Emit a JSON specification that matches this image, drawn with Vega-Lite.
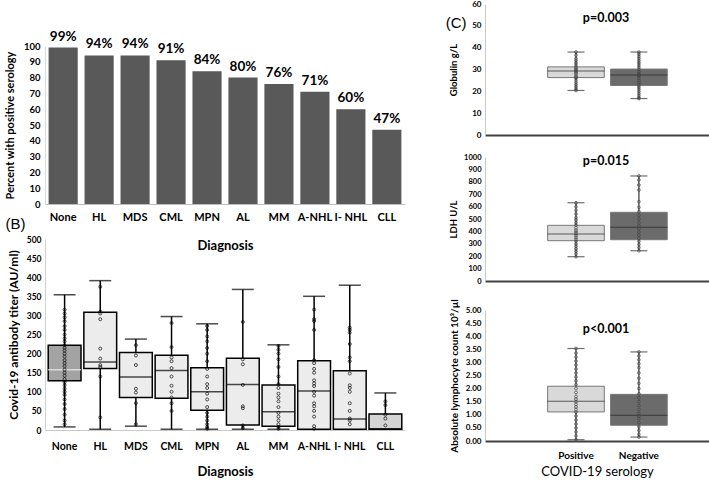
{
  "$schema": "https://vega.github.io/schema/vega-lite/v6.json",
  "padding": {"left": 4, "top": 0, "right": 2, "bottom": 1},
  "spacing": 40,
  "config": {
    "view": {"stroke": null},
    "font": "Lato",
    "axis": {"grid": false, "ticks": false, "labelOverlap": false, "labelColor": "#000", "titleColor": "#000", "labelFont": "Lato", "labelFontWeight": "bold", "titleFont": "Lato", "titleFontWeight": "bold", "domainColor": "#c8c8c8", "labelPadding": 4},
    "title": {"color": "#000"}
  },
  "datasets": {
    "aData": [
      {"dx": "None", "pct": 99, "label": "99%"},
      {"dx": "HL", "pct": 94, "label": "94%"},
      {"dx": "MDS", "pct": 94, "label": "94%"},
      {"dx": "CML", "pct": 91, "label": "91%"},
      {"dx": "MPN", "pct": 84, "label": "84%"},
      {"dx": "AL", "pct": 80, "label": "80%"},
      {"dx": "MM", "pct": 76, "label": "76%"},
      {"dx": "A-NHL", "pct": 71, "label": "71%"},
      {"dx": "I- NHL", "pct": 60, "label": "60%"},
      {"dx": "CLL", "pct": 47, "label": "47%"}
    ],
    "boxB": [
      {"dx": "None", "min": 8, "q1": 129, "median": 158, "q3": 222, "max": 354},
      {"dx": "HL", "min": 2, "q1": 161, "median": 178, "q3": 308, "max": 391},
      {"dx": "MDS", "min": 10, "q1": 85, "median": 139, "q3": 203, "max": 238},
      {"dx": "CML", "min": 2, "q1": 83, "median": 156, "q3": 196, "max": 297},
      {"dx": "MPN", "min": 2, "q1": 52, "median": 100, "q3": 163, "max": 278},
      {"dx": "AL", "min": 2, "q1": 13, "median": 119, "q3": 188, "max": 368},
      {"dx": "MM", "min": 2, "q1": 10, "median": 48, "q3": 118, "max": 223},
      {"dx": "A-NHL", "min": 2, "q1": 2, "median": 102, "q3": 181, "max": 350},
      {"dx": "I- NHL", "min": 2, "q1": 2, "median": 29, "q3": 155, "max": 379},
      {"dx": "CLL", "min": 2, "q1": 2, "median": 3, "q3": 42, "max": 97}
    ],
    "ptsB": [
      {"dx": "None", "titer": 315}, {"dx": "None", "titer": 305}, {"dx": "None", "titer": 295}, {"dx": "None", "titer": 285}, {"dx": "None", "titer": 272}, {"dx": "None", "titer": 262}, {"dx": "None", "titer": 250}, {"dx": "None", "titer": 240}, {"dx": "None", "titer": 232}, {"dx": "None", "titer": 222}, {"dx": "None", "titer": 215}, {"dx": "None", "titer": 208}, {"dx": "None", "titer": 200}, {"dx": "None", "titer": 192}, {"dx": "None", "titer": 183}, {"dx": "None", "titer": 175}, {"dx": "None", "titer": 167}, {"dx": "None", "titer": 158}, {"dx": "None", "titer": 150}, {"dx": "None", "titer": 142}, {"dx": "None", "titer": 133}, {"dx": "None", "titer": 125}, {"dx": "None", "titer": 117}, {"dx": "None", "titer": 108}, {"dx": "None", "titer": 100}, {"dx": "None", "titer": 92}, {"dx": "None", "titer": 80}, {"dx": "None", "titer": 68}, {"dx": "None", "titer": 55}, {"dx": "None", "titer": 40}, {"dx": "None", "titer": 25}, {"dx": "None", "titer": 15},
      {"dx": "HL", "titer": 375}, {"dx": "HL", "titer": 310}, {"dx": "HL", "titer": 305}, {"dx": "HL", "titer": 290}, {"dx": "HL", "titer": 213}, {"dx": "HL", "titer": 187}, {"dx": "HL", "titer": 170}, {"dx": "HL", "titer": 165}, {"dx": "HL", "titer": 140}, {"dx": "HL", "titer": 33},
      {"dx": "MDS", "titer": 222}, {"dx": "MDS", "titer": 195}, {"dx": "MDS", "titer": 170}, {"dx": "MDS", "titer": 108}, {"dx": "MDS", "titer": 98}, {"dx": "MDS", "titer": 70}, {"dx": "MDS", "titer": 15},
      {"dx": "CML", "titer": 280}, {"dx": "CML", "titer": 217}, {"dx": "CML", "titer": 190}, {"dx": "CML", "titer": 180}, {"dx": "CML", "titer": 162}, {"dx": "CML", "titer": 140}, {"dx": "CML", "titer": 116}, {"dx": "CML", "titer": 100}, {"dx": "CML", "titer": 85}, {"dx": "CML", "titer": 70}, {"dx": "CML", "titer": 50},
      {"dx": "MPN", "titer": 272}, {"dx": "MPN", "titer": 262}, {"dx": "MPN", "titer": 245}, {"dx": "MPN", "titer": 232}, {"dx": "MPN", "titer": 215}, {"dx": "MPN", "titer": 200}, {"dx": "MPN", "titer": 180}, {"dx": "MPN", "titer": 160}, {"dx": "MPN", "titer": 140}, {"dx": "MPN", "titer": 120}, {"dx": "MPN", "titer": 110}, {"dx": "MPN", "titer": 95}, {"dx": "MPN", "titer": 80}, {"dx": "MPN", "titer": 60}, {"dx": "MPN", "titer": 45}, {"dx": "MPN", "titer": 35}, {"dx": "MPN", "titer": 25}, {"dx": "MPN", "titer": 15}, {"dx": "MPN", "titer": 8}, {"dx": "MPN", "titer": 3},
      {"dx": "AL", "titer": 283}, {"dx": "AL", "titer": 185}, {"dx": "AL", "titer": 172}, {"dx": "AL", "titer": 118}, {"dx": "AL", "titer": 62}, {"dx": "AL", "titer": 57}, {"dx": "AL", "titer": 12}, {"dx": "AL", "titer": 5},
      {"dx": "MM", "titer": 220}, {"dx": "MM", "titer": 210}, {"dx": "MM", "titer": 200}, {"dx": "MM", "titer": 185}, {"dx": "MM", "titer": 165}, {"dx": "MM", "titer": 140}, {"dx": "MM", "titer": 120}, {"dx": "MM", "titer": 110}, {"dx": "MM", "titer": 95}, {"dx": "MM", "titer": 85}, {"dx": "MM", "titer": 75}, {"dx": "MM", "titer": 60}, {"dx": "MM", "titer": 45}, {"dx": "MM", "titer": 35}, {"dx": "MM", "titer": 25}, {"dx": "MM", "titer": 15}, {"dx": "MM", "titer": 8}, {"dx": "MM", "titer": 3},
      {"dx": "A-NHL", "titer": 315}, {"dx": "A-NHL", "titer": 290}, {"dx": "A-NHL", "titer": 285}, {"dx": "A-NHL", "titer": 262}, {"dx": "A-NHL", "titer": 183}, {"dx": "A-NHL", "titer": 175}, {"dx": "A-NHL", "titer": 160}, {"dx": "A-NHL", "titer": 150}, {"dx": "A-NHL", "titer": 130}, {"dx": "A-NHL", "titer": 122}, {"dx": "A-NHL", "titer": 115}, {"dx": "A-NHL", "titer": 100}, {"dx": "A-NHL", "titer": 90}, {"dx": "A-NHL", "titer": 70}, {"dx": "A-NHL", "titer": 62}, {"dx": "A-NHL", "titer": 50}, {"dx": "A-NHL", "titer": 35}, {"dx": "A-NHL", "titer": 10}, {"dx": "A-NHL", "titer": 3},
      {"dx": "I- NHL", "titer": 268}, {"dx": "I- NHL", "titer": 262}, {"dx": "I- NHL", "titer": 255}, {"dx": "I- NHL", "titer": 225}, {"dx": "I- NHL", "titer": 190}, {"dx": "I- NHL", "titer": 180}, {"dx": "I- NHL", "titer": 148}, {"dx": "I- NHL", "titer": 117}, {"dx": "I- NHL", "titer": 110}, {"dx": "I- NHL", "titer": 100}, {"dx": "I- NHL", "titer": 70}, {"dx": "I- NHL", "titer": 50}, {"dx": "I- NHL", "titer": 30}, {"dx": "I- NHL", "titer": 25}, {"dx": "I- NHL", "titer": 15},
      {"dx": "CLL", "titer": 75}, {"dx": "CLL", "titer": 65}, {"dx": "CLL", "titer": 40}, {"dx": "CLL", "titer": 30}, {"dx": "CLL", "titer": 12}
    ],
    "globBox": [
      {"serology": "Positive", "min": 20.4, "q1": 26.3, "median": 29.3, "q3": 31.2, "max": 38},
      {"serology": "Negative", "min": 16.7, "q1": 22.7, "median": 27.5, "q3": 30.2, "max": 38}
    ],
    "globPts": [
      {"serology": "Positive", "v": 38}, {"serology": "Positive", "v": 36.5}, {"serology": "Positive", "v": 35}, {"serology": "Positive", "v": 34}, {"serology": "Positive", "v": 33}, {"serology": "Positive", "v": 32}, {"serology": "Positive", "v": 31}, {"serology": "Positive", "v": 30.5}, {"serology": "Positive", "v": 30}, {"serology": "Positive", "v": 29.5}, {"serology": "Positive", "v": 29}, {"serology": "Positive", "v": 28.5}, {"serology": "Positive", "v": 28}, {"serology": "Positive", "v": 27}, {"serology": "Positive", "v": 26.5}, {"serology": "Positive", "v": 26}, {"serology": "Positive", "v": 25}, {"serology": "Positive", "v": 24}, {"serology": "Positive", "v": 23}, {"serology": "Positive", "v": 22}, {"serology": "Positive", "v": 21}, {"serology": "Positive", "v": 20.4},
      {"serology": "Negative", "v": 38}, {"serology": "Negative", "v": 37}, {"serology": "Negative", "v": 36}, {"serology": "Negative", "v": 35}, {"serology": "Negative", "v": 34}, {"serology": "Negative", "v": 33}, {"serology": "Negative", "v": 32}, {"serology": "Negative", "v": 31}, {"serology": "Negative", "v": 30}, {"serology": "Negative", "v": 29}, {"serology": "Negative", "v": 28}, {"serology": "Negative", "v": 27.5}, {"serology": "Negative", "v": 27}, {"serology": "Negative", "v": 26}, {"serology": "Negative", "v": 25}, {"serology": "Negative", "v": 24}, {"serology": "Negative", "v": 23}, {"serology": "Negative", "v": 22}, {"serology": "Negative", "v": 21}, {"serology": "Negative", "v": 20}, {"serology": "Negative", "v": 19}, {"serology": "Negative", "v": 18}, {"serology": "Negative", "v": 17}, {"serology": "Negative", "v": 16.7}
    ],
    "ldhBox": [
      {"serology": "Positive", "min": 196, "q1": 325, "median": 379, "q3": 449, "max": 631},
      {"serology": "Negative", "min": 244, "q1": 333, "median": 433, "q3": 554, "max": 847}
    ],
    "ldhPts": [
      {"serology": "Positive", "v": 631}, {"serology": "Positive", "v": 600}, {"serology": "Positive", "v": 570}, {"serology": "Positive", "v": 540}, {"serology": "Positive", "v": 510}, {"serology": "Positive", "v": 490}, {"serology": "Positive", "v": 470}, {"serology": "Positive", "v": 450}, {"serology": "Positive", "v": 430}, {"serology": "Positive", "v": 410}, {"serology": "Positive", "v": 395}, {"serology": "Positive", "v": 380}, {"serology": "Positive", "v": 365}, {"serology": "Positive", "v": 350}, {"serology": "Positive", "v": 335}, {"serology": "Positive", "v": 320}, {"serology": "Positive", "v": 300}, {"serology": "Positive", "v": 280}, {"serology": "Positive", "v": 260}, {"serology": "Positive", "v": 240}, {"serology": "Positive", "v": 220}, {"serology": "Positive", "v": 196},
      {"serology": "Negative", "v": 847}, {"serology": "Negative", "v": 815}, {"serology": "Negative", "v": 774}, {"serology": "Negative", "v": 734}, {"serology": "Negative", "v": 640}, {"serology": "Negative", "v": 594}, {"serology": "Negative", "v": 559}, {"serology": "Negative", "v": 530}, {"serology": "Negative", "v": 500}, {"serology": "Negative", "v": 470}, {"serology": "Negative", "v": 445}, {"serology": "Negative", "v": 420}, {"serology": "Negative", "v": 395}, {"serology": "Negative", "v": 370}, {"serology": "Negative", "v": 345}, {"serology": "Negative", "v": 320}, {"serology": "Negative", "v": 295}, {"serology": "Negative", "v": 270}, {"serology": "Negative", "v": 244}
    ],
    "lymBox": [
      {"serology": "Positive", "min": 0.05, "q1": 1.11, "median": 1.52, "q3": 2.09, "max": 3.53},
      {"serology": "Negative", "min": 0.15, "q1": 0.6, "median": 0.98, "q3": 1.78, "max": 3.4}
    ],
    "lymPts": [
      {"serology": "Positive", "v": 3.53}, {"serology": "Positive", "v": 3.35}, {"serology": "Positive", "v": 3.2}, {"serology": "Positive", "v": 3.05}, {"serology": "Positive", "v": 2.9}, {"serology": "Positive", "v": 2.75}, {"serology": "Positive", "v": 2.6}, {"serology": "Positive", "v": 2.45}, {"serology": "Positive", "v": 2.3}, {"serology": "Positive", "v": 2.15}, {"serology": "Positive", "v": 2.0}, {"serology": "Positive", "v": 1.85}, {"serology": "Positive", "v": 1.7}, {"serology": "Positive", "v": 1.6}, {"serology": "Positive", "v": 1.5}, {"serology": "Positive", "v": 1.4}, {"serology": "Positive", "v": 1.3}, {"serology": "Positive", "v": 1.2}, {"serology": "Positive", "v": 1.1}, {"serology": "Positive", "v": 0.95}, {"serology": "Positive", "v": 0.8}, {"serology": "Positive", "v": 0.65}, {"serology": "Positive", "v": 0.5}, {"serology": "Positive", "v": 0.35}, {"serology": "Positive", "v": 0.2}, {"serology": "Positive", "v": 0.05},
      {"serology": "Negative", "v": 3.4}, {"serology": "Negative", "v": 3.25}, {"serology": "Negative", "v": 3.1}, {"serology": "Negative", "v": 2.95}, {"serology": "Negative", "v": 2.8}, {"serology": "Negative", "v": 2.6}, {"serology": "Negative", "v": 2.4}, {"serology": "Negative", "v": 2.2}, {"serology": "Negative", "v": 2.0}, {"serology": "Negative", "v": 1.8}, {"serology": "Negative", "v": 1.65}, {"serology": "Negative", "v": 1.5}, {"serology": "Negative", "v": 1.35}, {"serology": "Negative", "v": 1.2}, {"serology": "Negative", "v": 1.05}, {"serology": "Negative", "v": 0.95}, {"serology": "Negative", "v": 0.85}, {"serology": "Negative", "v": 0.7}, {"serology": "Negative", "v": 0.55}, {"serology": "Negative", "v": 0.4}, {"serology": "Negative", "v": 0.25}, {"serology": "Negative", "v": 0.15}
    ]
  },
  "hconcat": [
    {
      "bounds": "flush",
      "spacing": 35,
      "vconcat": [
        {"width": 360, "height": 7, "data": {"values": []}, "mark": "point"},
        {
          "width": 360, "height": 158,
          "data": {"name": "aData"},
          "encoding": {
            "x": {"field": "dx", "type": "nominal", "scale": {"domain": ["None", "HL", "MDS", "CML", "MPN", "AL", "MM", "A-NHL", "I- NHL", "CLL"], "paddingInner": 0.19, "paddingOuter": 0.1}, "axis": {"title": "Diagnosis", "labelAngle": 0, "labelFontSize": 11, "labelPadding": 7, "titleFontSize": 13, "titlePadding": 17, "domainColor": "#bfbfbf"}},
            "y": {"field": "pct", "type": "quantitative", "scale": {"domain": [0, 100], "nice": false}, "axis": {"values": [0, 10, 20, 30, 40, 50, 60, 70, 80, 90, 100], "title": "Percent with positive serology", "labelFontSize": 9.5, "titleFontSize": 11, "labelPadding": 5, "titlePadding": 8, "domainColor": "#d9d9d9"}}
          },
          "layer": [
            {"mark": {"type": "bar", "color": "#595959"}},
            {"mark": {"type": "text", "baseline": "bottom", "dy": -4, "fontSize": 13.5, "fontWeight": "bold", "color": "#000"}, "encoding": {"text": {"field": "label"}}},
            {"data": {"values": [{"t": "(A)"}]}, "mark": {"type": "text", "font": "Liberation Sans", "fontSize": 15, "color": "#000", "align": "left", "baseline": "middle"}, "encoding": {"x": {"datum": "None", "bandPosition": -1.48, "scale": {"domain": ["None", "HL", "MDS", "CML", "MPN", "AL", "MM", "A-NHL", "I- NHL", "CLL"], "paddingInner": 0.19, "paddingOuter": 0.1}, "axis": {"title": "Diagnosis", "labelAngle": 0, "labelFontSize": 11, "labelPadding": 7, "titleFontSize": 13, "titlePadding": 17, "domainColor": "#bfbfbf"}}, "y": {"datum": 115.5, "type": "quantitative", "scale": {"domain": [0, 100], "nice": false}, "axis": {"values": [0, 10, 20, 30, 40, 50, 60, 70, 80, 90, 100], "title": "Percent with positive serology", "labelFontSize": 9.5, "titleFontSize": 11, "labelPadding": 5, "titlePadding": 8, "domainColor": "#d9d9d9"}}, "text": {"field": "t"}}}
          ]
        },
        {
          "width": 360, "height": 191,
          "encoding": {
            "x": {"field": "dx", "type": "nominal", "scale": {"domain": ["None", "HL", "MDS", "CML", "MPN", "AL", "MM", "A-NHL", "I- NHL", "CLL"], "paddingInner": 0.08, "paddingOuter": 0.09}, "axis": {"title": "Diagnosis", "labelAngle": 0, "labelFontSize": 10.5, "labelPadding": 11, "titleFontSize": 13, "titlePadding": 14, "domainColor": "#c8c8c8"}}
          },
          "layer": [
            {"data": {"name": "boxB"}, "mark": {"type": "rule", "color": "#000", "strokeWidth": 1.5}, "encoding": {"y": {"field": "min", "type": "quantitative", "scale": {"domain": [0, 500], "nice": false}, "axis": {"values": [0, 50, 100, 150, 200, 250, 300, 350, 400, 450, 500], "title": "Covid-19 antibody titer (AU/ml)", "labelFontSize": 8.5, "titleFontSize": 12, "labelPadding": 4, "titlePadding": 6, "domainColor": "#d0d0d0", "labelOverlap": false}}, "y2": {"field": "max"}}},
            {"data": {"name": "boxB"}, "mark": {"type": "tick", "color": "#000", "size": 22, "thickness": 1.5}, "encoding": {"y": {"field": "max", "type": "quantitative", "scale": {"domain": [0, 500], "nice": false}, "axis": {"values": [0, 50, 100, 150, 200, 250, 300, 350, 400, 450, 500], "title": "Covid-19 antibody titer (AU/ml)", "labelFontSize": 8.5, "titleFontSize": 12, "labelPadding": 4, "titlePadding": 6, "domainColor": "#d0d0d0", "labelOverlap": false}}}},
            {"data": {"name": "boxB"}, "mark": {"type": "tick", "color": "#000", "size": 22, "thickness": 1.5}, "encoding": {"y": {"field": "min", "type": "quantitative", "scale": {"domain": [0, 500], "nice": false}, "axis": {"values": [0, 50, 100, 150, 200, 250, 300, 350, 400, 450, 500], "title": "Covid-19 antibody titer (AU/ml)", "labelFontSize": 8.5, "titleFontSize": 12, "labelPadding": 4, "titlePadding": 6, "domainColor": "#d0d0d0", "labelOverlap": false}}}},
            {"data": {"name": "boxB"}, "mark": {"type": "bar", "stroke": "#000", "strokeWidth": 1.5}, "encoding": {"y": {"field": "q1", "type": "quantitative", "scale": {"domain": [0, 500], "nice": false}, "axis": {"values": [0, 50, 100, 150, 200, 250, 300, 350, 400, 450, 500], "title": "Covid-19 antibody titer (AU/ml)", "labelFontSize": 8.5, "titleFontSize": 12, "labelPadding": 4, "titlePadding": 6, "domainColor": "#d0d0d0", "labelOverlap": false}}, "y2": {"field": "q3"}, "color": {"condition": [{"test": "datum.dx === 'None'", "value": "#a3a3a3"}, {"test": "datum.dx === 'CLL'", "value": "#d4d4d4"}], "value": "#ececec"}}},
            {"data": {"name": "boxB"}, "mark": {"type": "tick", "size": 33, "thickness": 1.5}, "encoding": {"y": {"field": "median", "type": "quantitative", "scale": {"domain": [0, 500], "nice": false}, "axis": {"values": [0, 50, 100, 150, 200, 250, 300, 350, 400, 450, 500], "title": "Covid-19 antibody titer (AU/ml)", "labelFontSize": 8.5, "titleFontSize": 12, "labelPadding": 4, "titlePadding": 6, "domainColor": "#d0d0d0", "labelOverlap": false}}, "color": {"condition": {"test": "datum.dx === 'None'", "value": "#f2f2f2"}, "value": "#000"}}},
            {"data": {"name": "ptsB"}, "mark": {"type": "point", "shape": "circle", "size": 9, "filled": false, "stroke": "#000", "strokeWidth": 1}, "encoding": {"y": {"field": "titer", "type": "quantitative", "scale": {"domain": [0, 500], "nice": false}, "axis": {"values": [0, 50, 100, 150, 200, 250, 300, 350, 400, 450, 500], "title": "Covid-19 antibody titer (AU/ml)", "labelFontSize": 8.5, "titleFontSize": 12, "labelPadding": 4, "titlePadding": 6, "domainColor": "#d0d0d0", "labelOverlap": false}}}},
            {"data": {"values": [{"t": "(B)"}]}, "mark": {"type": "text", "font": "Liberation Sans", "fontSize": 15, "color": "#000", "align": "left", "baseline": "middle"}, "encoding": {"x": {"datum": "None", "bandPosition": -1.3, "axis": {"title": "Diagnosis", "labelAngle": 0, "labelFontSize": 10.5, "labelPadding": 11, "titleFontSize": 13, "titlePadding": 14, "domainColor": "#c8c8c8"}}, "y": {"datum": 539, "type": "quantitative", "scale": {"domain": [0, 500], "nice": false}, "axis": {"values": [0, 50, 100, 150, 200, 250, 300, 350, 400, 450, 500], "title": "Covid-19 antibody titer (AU/ml)", "labelFontSize": 8.5, "titleFontSize": 12, "labelPadding": 4, "titlePadding": 6, "domainColor": "#d0d0d0", "labelOverlap": false}}, "text": {"field": "t"}}}
          ]
        }
      ]
    },
    {
      "bounds": "flush",
      "spacing": 10,
      "vconcat": [
        {
          "width": 224, "height": 131,
          "encoding": {
            "x": {"field": "serology", "type": "nominal", "scale": {"domain": ["Positive", "Negative"], "paddingInner": 0.1, "paddingOuter": 0.83, "align": 0.6}, "axis": {"labels": false, "title": null, "domainColor": "#404040", "domainWidth": 2}}
          },
          "layer": [
            {"data": {"name": "globBox"}, "mark": {"type": "rule", "color": "#333", "strokeWidth": 1.2}, "encoding": {"y": {"field": "min", "type": "quantitative", "scale": {"domain": [0, 60], "nice": false}, "axis": {"values": [0, 10, 20, 30, 40, 50, 60], "title": "Globulin g/L", "labelFontSize": 8, "titleFontSize": 9.5, "labelPadding": 4, "titlePadding": 13, "labelOverlap": false}}, "y2": {"field": "max"}}},
            {"data": {"name": "globBox"}, "mark": {"type": "tick", "color": "#333", "size": 17, "thickness": 1.2}, "encoding": {"y": {"field": "min", "type": "quantitative", "scale": {"domain": [0, 60], "nice": false}, "axis": {"values": [0, 10, 20, 30, 40, 50, 60], "title": "Globulin g/L", "labelFontSize": 8, "titleFontSize": 9.5, "labelPadding": 4, "titlePadding": 13, "labelOverlap": false}}}},
            {"data": {"name": "globBox"}, "mark": {"type": "tick", "color": "#333", "size": 17, "thickness": 1.2}, "encoding": {"y": {"field": "max", "type": "quantitative", "scale": {"domain": [0, 60], "nice": false}, "axis": {"values": [0, 10, 20, 30, 40, 50, 60], "title": "Globulin g/L", "labelFontSize": 8, "titleFontSize": 9.5, "labelPadding": 4, "titlePadding": 13, "labelOverlap": false}}}},
            {"data": {"name": "globBox"}, "mark": {"type": "bar", "stroke": "#777", "strokeWidth": 1}, "encoding": {"y": {"field": "q1", "type": "quantitative", "scale": {"domain": [0, 60], "nice": false}, "axis": {"values": [0, 10, 20, 30, 40, 50, 60], "title": "Globulin g/L", "labelFontSize": 8, "titleFontSize": 9.5, "labelPadding": 4, "titlePadding": 13, "labelOverlap": false}}, "y2": {"field": "q3"}, "color": {"condition": {"test": "datum.serology === 'Positive'", "value": "#d9d9d9"}, "value": "#6b6b6b"}}},
            {"data": {"name": "globBox"}, "mark": {"type": "tick", "color": "#222", "size": 57, "thickness": 1}, "encoding": {"y": {"field": "median", "type": "quantitative", "scale": {"domain": [0, 60], "nice": false}, "axis": {"values": [0, 10, 20, 30, 40, 50, 60], "title": "Globulin g/L", "labelFontSize": 8, "titleFontSize": 9.5, "labelPadding": 4, "titlePadding": 13, "labelOverlap": false}}}},
            {"data": {"name": "globPts"}, "mark": {"type": "point", "shape": "circle", "size": 8, "filled": false, "stroke": "#444", "strokeWidth": 1}, "encoding": {"y": {"field": "v", "type": "quantitative", "scale": {"domain": [0, 60], "nice": false}, "axis": {"values": [0, 10, 20, 30, 40, 50, 60], "title": "Globulin g/L", "labelFontSize": 8, "titleFontSize": 9.5, "labelPadding": 4, "titlePadding": 13, "labelOverlap": false}}}},
            {"data": {"values": [{"t": "p=0.003"}]}, "mark": {"type": "text", "fontSize": 12.5, "fontWeight": "bold", "color": "#000", "baseline": "middle"}, "encoding": {"x": {"datum": "Positive", "bandPosition": 1.03, "axis": {"labels": false, "title": null, "domainColor": "#404040", "domainWidth": 2}}, "y": {"datum": 53.4, "type": "quantitative", "scale": {"domain": [0, 60], "nice": false}, "axis": {"values": [0, 10, 20, 30, 40, 50, 60], "title": "Globulin g/L", "labelFontSize": 8, "titleFontSize": 9.5, "labelPadding": 4, "titlePadding": 13, "labelOverlap": false}}, "text": {"field": "t"}}},
            {"data": {"values": [{"t": "(C)"}]}, "mark": {"type": "text", "font": "Liberation Sans", "fontSize": 15, "color": "#000", "align": "left", "baseline": "middle"}, "encoding": {"x": {"datum": "Positive", "bandPosition": -1.8, "axis": {"labels": false, "title": null, "domainColor": "#404040", "domainWidth": 2}}, "y": {"datum": 51.4, "type": "quantitative", "scale": {"domain": [0, 60], "nice": false}, "axis": {"values": [0, 10, 20, 30, 40, 50, 60], "title": "Globulin g/L", "labelFontSize": 8, "titleFontSize": 9.5, "labelPadding": 4, "titlePadding": 13, "labelOverlap": false}}, "text": {"field": "t"}}}
          ]
        },
        {"width": 224, "height": 2, "data": {"values": []}, "mark": "point"},
        {
          "width": 224, "height": 124,
          "encoding": {
            "x": {"field": "serology", "type": "nominal", "scale": {"domain": ["Positive", "Negative"], "paddingInner": 0.1, "paddingOuter": 0.83, "align": 0.6}, "axis": {"labels": false, "title": null, "domainColor": "#404040", "domainWidth": 2}}
          },
          "layer": [
            {"data": {"name": "ldhBox"}, "mark": {"type": "rule", "color": "#333", "strokeWidth": 1.2}, "encoding": {"y": {"field": "min", "type": "quantitative", "scale": {"domain": [0, 1000], "nice": false}, "axis": {"values": [0, 100, 200, 300, 400, 500, 600, 700, 800, 900, 1000], "format": "d", "title": "LDH U/L", "labelFontSize": 7.5, "titleFontSize": 9.5, "labelPadding": 4, "titlePadding": 5, "labelOverlap": false}}, "y2": {"field": "max"}}},
            {"data": {"name": "ldhBox"}, "mark": {"type": "tick", "color": "#333", "size": 17, "thickness": 1.2}, "encoding": {"y": {"field": "min", "type": "quantitative", "scale": {"domain": [0, 1000], "nice": false}, "axis": {"values": [0, 100, 200, 300, 400, 500, 600, 700, 800, 900, 1000], "format": "d", "title": "LDH U/L", "labelFontSize": 7.5, "titleFontSize": 9.5, "labelPadding": 4, "titlePadding": 5, "labelOverlap": false}}}},
            {"data": {"name": "ldhBox"}, "mark": {"type": "tick", "color": "#333", "size": 17, "thickness": 1.2}, "encoding": {"y": {"field": "max", "type": "quantitative", "scale": {"domain": [0, 1000], "nice": false}, "axis": {"values": [0, 100, 200, 300, 400, 500, 600, 700, 800, 900, 1000], "format": "d", "title": "LDH U/L", "labelFontSize": 7.5, "titleFontSize": 9.5, "labelPadding": 4, "titlePadding": 5, "labelOverlap": false}}}},
            {"data": {"name": "ldhBox"}, "mark": {"type": "bar", "stroke": "#777", "strokeWidth": 1}, "encoding": {"y": {"field": "q1", "type": "quantitative", "scale": {"domain": [0, 1000], "nice": false}, "axis": {"values": [0, 100, 200, 300, 400, 500, 600, 700, 800, 900, 1000], "format": "d", "title": "LDH U/L", "labelFontSize": 7.5, "titleFontSize": 9.5, "labelPadding": 4, "titlePadding": 5, "labelOverlap": false}}, "y2": {"field": "q3"}, "color": {"condition": {"test": "datum.serology === 'Positive'", "value": "#d9d9d9"}, "value": "#6b6b6b"}}},
            {"data": {"name": "ldhBox"}, "mark": {"type": "tick", "color": "#222", "size": 57, "thickness": 1}, "encoding": {"y": {"field": "median", "type": "quantitative", "scale": {"domain": [0, 1000], "nice": false}, "axis": {"values": [0, 100, 200, 300, 400, 500, 600, 700, 800, 900, 1000], "format": "d", "title": "LDH U/L", "labelFontSize": 7.5, "titleFontSize": 9.5, "labelPadding": 4, "titlePadding": 5, "labelOverlap": false}}}},
            {"data": {"name": "ldhPts"}, "mark": {"type": "point", "shape": "circle", "size": 8, "filled": false, "stroke": "#444", "strokeWidth": 1}, "encoding": {"y": {"field": "v", "type": "quantitative", "scale": {"domain": [0, 1000], "nice": false}, "axis": {"values": [0, 100, 200, 300, 400, 500, 600, 700, 800, 900, 1000], "format": "d", "title": "LDH U/L", "labelFontSize": 7.5, "titleFontSize": 9.5, "labelPadding": 4, "titlePadding": 5, "labelOverlap": false}}}},
            {"data": {"values": [{"t": "p=0.015"}]}, "mark": {"type": "text", "fontSize": 12.5, "fontWeight": "bold", "color": "#000", "baseline": "middle"}, "encoding": {"x": {"datum": "Positive", "bandPosition": 1.03, "axis": {"labels": false, "title": null, "domainColor": "#404040", "domainWidth": 2}}, "y": {"datum": 968, "type": "quantitative", "scale": {"domain": [0, 1000], "nice": false}, "axis": {"values": [0, 100, 200, 300, 400, 500, 600, 700, 800, 900, 1000], "format": "d", "title": "LDH U/L", "labelFontSize": 7.5, "titleFontSize": 9.5, "labelPadding": 4, "titlePadding": 5, "labelOverlap": false}}, "text": {"field": "t"}}}
          ]
        },
        {"width": 224, "height": 9, "data": {"values": []}, "mark": "point"},
        {
          "width": 224, "height": 131,
          "encoding": {
            "x": {"field": "serology", "type": "nominal", "scale": {"domain": ["Positive", "Negative"], "paddingInner": 0.1, "paddingOuter": 0.83, "align": 0.6}, "axis": {"title": "COVID-19 serology", "labelAngle": 0, "labelFontSize": 10, "labelPadding": 9, "titleFontSize": 13, "titleFontWeight": "normal", "titlePadding": 5, "domainColor": "#404040", "domainWidth": 2}}
          },
          "layer": [
            {"data": {"name": "lymBox"}, "mark": {"type": "rule", "color": "#333", "strokeWidth": 1.2}, "encoding": {"y": {"field": "min", "type": "quantitative", "scale": {"domain": [0, 5], "nice": false}, "axis": {"values": [0, 0.5, 1, 1.5, 2, 2.5, 3, 3.5, 4, 4.5, 5], "format": ".2f", "title": "Absolute lymphocyte count 10³/µl", "labelFontSize": 8, "titleFontSize": 10, "labelPadding": 4, "titlePadding": 6, "labelOverlap": false}}, "y2": {"field": "max"}}},
            {"data": {"name": "lymBox"}, "mark": {"type": "tick", "color": "#333", "size": 17, "thickness": 1.2}, "encoding": {"y": {"field": "min", "type": "quantitative", "scale": {"domain": [0, 5], "nice": false}, "axis": {"values": [0, 0.5, 1, 1.5, 2, 2.5, 3, 3.5, 4, 4.5, 5], "format": ".2f", "title": "Absolute lymphocyte count 10³/µl", "labelFontSize": 8, "titleFontSize": 10, "labelPadding": 4, "titlePadding": 6, "labelOverlap": false}}}},
            {"data": {"name": "lymBox"}, "mark": {"type": "tick", "color": "#333", "size": 17, "thickness": 1.2}, "encoding": {"y": {"field": "max", "type": "quantitative", "scale": {"domain": [0, 5], "nice": false}, "axis": {"values": [0, 0.5, 1, 1.5, 2, 2.5, 3, 3.5, 4, 4.5, 5], "format": ".2f", "title": "Absolute lymphocyte count 10³/µl", "labelFontSize": 8, "titleFontSize": 10, "labelPadding": 4, "titlePadding": 6, "labelOverlap": false}}}},
            {"data": {"name": "lymBox"}, "mark": {"type": "bar", "stroke": "#777", "strokeWidth": 1}, "encoding": {"y": {"field": "q1", "type": "quantitative", "scale": {"domain": [0, 5], "nice": false}, "axis": {"values": [0, 0.5, 1, 1.5, 2, 2.5, 3, 3.5, 4, 4.5, 5], "format": ".2f", "title": "Absolute lymphocyte count 10³/µl", "labelFontSize": 8, "titleFontSize": 10, "labelPadding": 4, "titlePadding": 6, "labelOverlap": false}}, "y2": {"field": "q3"}, "color": {"condition": {"test": "datum.serology === 'Positive'", "value": "#d9d9d9"}, "value": "#6b6b6b"}}},
            {"data": {"name": "lymBox"}, "mark": {"type": "tick", "color": "#222", "size": 57, "thickness": 1}, "encoding": {"y": {"field": "median", "type": "quantitative", "scale": {"domain": [0, 5], "nice": false}, "axis": {"values": [0, 0.5, 1, 1.5, 2, 2.5, 3, 3.5, 4, 4.5, 5], "format": ".2f", "title": "Absolute lymphocyte count 10³/µl", "labelFontSize": 8, "titleFontSize": 10, "labelPadding": 4, "titlePadding": 6, "labelOverlap": false}}}},
            {"data": {"name": "lymPts"}, "mark": {"type": "point", "shape": "circle", "size": 8, "filled": false, "stroke": "#444", "strokeWidth": 1}, "encoding": {"y": {"field": "v", "type": "quantitative", "scale": {"domain": [0, 5], "nice": false}, "axis": {"values": [0, 0.5, 1, 1.5, 2, 2.5, 3, 3.5, 4, 4.5, 5], "format": ".2f", "title": "Absolute lymphocyte count 10³/µl", "labelFontSize": 8, "titleFontSize": 10, "labelPadding": 4, "titlePadding": 6, "labelOverlap": false}}}},
            {"data": {"values": [{"t": "p<0.001"}]}, "mark": {"type": "text", "fontSize": 12.5, "fontWeight": "bold", "color": "#000", "baseline": "middle"}, "encoding": {"x": {"datum": "Positive", "bandPosition": 1.03, "axis": {"title": "COVID-19 serology", "labelAngle": 0, "labelFontSize": 10, "labelPadding": 9, "titleFontSize": 13, "titleFontWeight": "normal", "titlePadding": 5, "domainColor": "#404040", "domainWidth": 2}}, "y": {"datum": 4.26, "type": "quantitative", "scale": {"domain": [0, 5], "nice": false}, "axis": {"values": [0, 0.5, 1, 1.5, 2, 2.5, 3, 3.5, 4, 4.5, 5], "format": ".2f", "title": "Absolute lymphocyte count 10³/µl", "labelFontSize": 8, "titleFontSize": 10, "labelPadding": 4, "titlePadding": 6, "labelOverlap": false}}, "text": {"field": "t"}}}
          ]
        }
      ]
    }
  ]
}
